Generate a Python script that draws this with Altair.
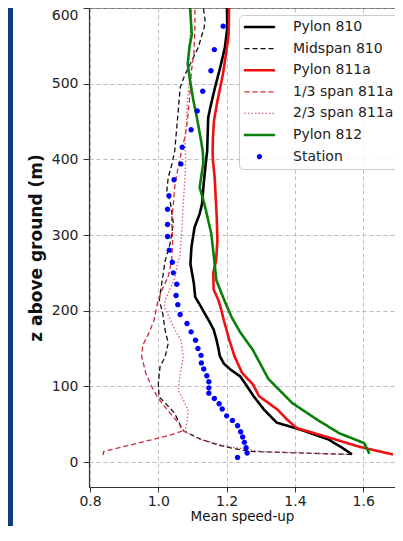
import altair as alt
import pandas as pd

SERIES = ["Pylon 810", "Midspan 810", "Pylon 811a", "1/3 span 811a",
          "2/3 span 811a", "Pylon 812", "Station"]
COLORS = ["#000000", "#111111", "#f01010", "#d3283a", "#dc6070", "#0a800a", "#0000ff"]
DASHES = [[1, 0], [5, 3], [1, 0], [5, 3], [1.5, 2], [1, 0], [1, 0]]
WIDTHS = {"Pylon 810": 2.6, "Midspan 810": 1.3, "Pylon 811a": 2.6, "1/3 span 811a": 1.3,
          "2/3 span 811a": 1.3, "Pylon 812": 2.6}
SOLID_SYM = "M-2.5,-0.11H2.5V0.11H-2.5Z"
LINE_SYM = "M-2.5,0L2.5,0"
CIRCLE_SYM = "M0.33,0A0.33,0.33,0,1,1,-0.33,0A0.33,0.33,0,1,1,0.33,0Z"
SHAPES = [SOLID_SYM, LINE_SYM, SOLID_SYM, LINE_SYM, LINE_SYM, SOLID_SYM, CIRCLE_SYM]

p810_z = [10, 20, 30, 43, 52, 69, 87, 104, 113, 122, 130, 140, 150, 162, 175, 187, 197, 206,
          218, 236, 262, 284, 310, 328, 341, 364, 391, 411, 440, 455, 468, 495, 521, 548, 574, 600]
p810_v = [1.567, 1.535, 1.497, 1.415, 1.347, 1.310, 1.279, 1.254, 1.240, 1.212, 1.192, 1.180,
          1.176, 1.170, 1.162, 1.148, 1.135, 1.124, 1.108, 1.104, 1.094, 1.097, 1.106, 1.121,
          1.128, 1.132, 1.138, 1.143, 1.145, 1.146, 1.152, 1.166, 1.181, 1.195, 1.202, 1.201]

mid810_z = [10, 12, 14, 18, 22, 30, 41, 47, 65, 78, 86, 104, 126, 139, 157, 174, 196, 214,
            236, 266, 288, 315, 341, 359, 376, 394, 411, 442, 468, 495, 512, 530, 548, 574, 583, 600]
mid810_v = [1.566, 1.415, 1.268, 1.220, 1.180, 1.125, 1.075, 1.066, 1.047, 1.020, 1.002, 1.000,
            1.005, 1.020, 1.029, 1.020, 1.013, 1.003, 1.010, 1.020, 1.034, 1.044, 1.036, 1.025,
            1.029, 1.040, 1.048, 1.054, 1.059, 1.064, 1.078, 1.098, 1.117, 1.134, 1.137, 1.132]

p811_z = [10, 20, 33, 45, 57, 69, 87, 102, 118, 126, 140, 161, 187, 205, 214, 228, 250, 266,
          293, 324, 350, 376, 398, 411, 430, 451, 477, 512, 539, 565, 600]
p811_v = [1.687, 1.590, 1.495, 1.405, 1.375, 1.350, 1.295, 1.278, 1.245, 1.237, 1.223, 1.208,
          1.192, 1.182, 1.176, 1.162, 1.161, 1.169, 1.173, 1.171, 1.168, 1.165, 1.160, 1.159,
          1.160, 1.163, 1.173, 1.189, 1.198, 1.206, 1.207]

s13_z = [9, 14, 25, 35, 41, 50, 67, 82, 100, 118, 140, 155, 170, 188, 210, 227, 245, 266, 293,
         319, 341, 368, 394, 411, 430, 451, 477, 504, 521, 539, 574, 600]
s13_v = [0.838, 0.840, 0.940, 1.030, 1.070, 1.062, 1.030, 1.003, 0.980, 0.963, 0.951, 0.955,
         0.972, 0.988, 0.997, 1.010, 1.029, 1.039, 1.042, 1.039, 1.044, 1.049, 1.060, 1.068,
         1.078, 1.085, 1.091, 1.095, 1.098, 1.104, 1.107, 1.107]

s23_z = [10, 14, 20, 30, 40, 55, 69, 82, 95, 113, 139, 148, 161, 172, 183, 195, 205, 214, 223,
         244, 262, 271, 302, 341, 376, 398, 425, 451, 477, 504, 530, 565, 600]
s23_v = [1.550, 1.300, 1.210, 1.120, 1.077, 1.085, 1.087, 1.073, 1.058, 1.063, 1.073, 1.070,
         1.066, 1.052, 1.040, 1.028, 1.018, 1.020, 1.029, 1.049, 1.056, 1.063, 1.068, 1.073,
         1.078, 1.080, 1.078, 1.083, 1.085, 1.091, 1.088, 1.093, 1.098]

p812_z = [11, 25, 38, 56, 78, 110, 148, 172, 192, 214, 240, 270, 302, 341, 363, 396, 411, 425,
          455, 477, 504, 526, 548, 565, 600]
p812_v = [1.618, 1.603, 1.530, 1.465, 1.392, 1.322, 1.277, 1.239, 1.214, 1.193, 1.170, 1.163,
          1.155, 1.135, 1.121, 1.132, 1.130, 1.125, 1.113, 1.103, 1.093, 1.086, 1.091, 1.098, 1.093]

station_z = [6, 12, 19, 26, 33, 40, 48, 55, 61, 70, 77, 84, 91, 98, 106, 114, 123, 131, 141,
             150, 161, 172, 183, 195, 208, 220, 235, 250, 264, 280, 298, 314, 334, 352, 373,
             394, 416, 439, 464, 490, 517, 545, 576]
station_v = [1.232, 1.260, 1.257, 1.252, 1.247, 1.241, 1.232, 1.217, 1.200, 1.187, 1.178, 1.164,
             1.148, 1.148, 1.148, 1.142, 1.133, 1.126, 1.125, 1.116, 1.109, 1.096, 1.084, 1.064,
             1.057, 1.052, 1.054, 1.044, 1.041, 1.032, 1.027, 1.027, 1.027, 1.031, 1.046, 1.066,
             1.070, 1.096, 1.114, 1.130, 1.154, 1.164, 1.190]

X_TICKS = [0.8, 1.0, 1.2, 1.4, 1.6]
Y_TICKS = [0, 100, 200, 300, 400, 500, 600]

line_sets = [("Pylon 810", p810_z, p810_v), ("Midspan 810", mid810_z, mid810_v),
             ("Pylon 811a", p811_z, p811_v), ("1/3 span 811a", s13_z, s13_v),
             ("2/3 span 811a", s23_z, s23_v), ("Pylon 812", p812_z, p812_v)]
rows = []
for name, zs, vs in line_sets:
    for i, (z, v) in enumerate(zip(zs, vs)):
        rows.append({"series": name, "z": z, "v": v, "idx": i, "sw": WIDTHS[name]})
lines_df = pd.DataFrame(rows)
st_df = pd.DataFrame({"series": "Station", "z": station_z, "v": station_v})

FONT = "DejaVu Sans"
PLOT_W, PLOT_H = 306, 479
xenc = alt.X("v:Q", scale=alt.Scale(domain=[0.797, 0.797 + PLOT_W / 341.5], nice=False, zero=False),
             axis=alt.Axis(values=X_TICKS, format=".1f", title="Mean speed-up",
                           titleFontSize=13.5, titleFontWeight="normal", titlePadding=1,
                           labelFontSize=14, labelPadding=2, tickSize=5))
yenc = alt.Y("z:Q", scale=alt.Scale(domain=[-33, 600], nice=False, zero=False),
             axis=alt.Axis(values=Y_TICKS, title="z above ground (m)", titleFontSize=17,
                           titleFontWeight="bold", titlePadding=6, labelFontSize=14,
                           labelPadding=5, labelFlush=True, tickSize=6))

legend = alt.Legend(
    title=None, orient="none", legendX=150, legendY=7, padding=5,
    fillColor="rgba(255,255,255,0.85)", strokeColor="#cccccc", cornerRadius=4,
    labelFontSize=14, labelColor="#222222", labelFont=FONT, labelOffset=26.5,
    symbolSize=144, symbolOffset=8.5, symbolStrokeWidth=1.3, rowPadding=7.6,
)

color = alt.Color("series:N", scale=alt.Scale(domain=SERIES, range=COLORS), legend=legend)
dash = alt.StrokeDash("series:N", scale=alt.Scale(domain=SERIES, range=DASHES), legend=legend)
shape = alt.Shape("series:N", scale=alt.Scale(domain=SERIES, range=SHAPES), legend=legend)

strip = alt.Chart(pd.DataFrame({"a": [0]})).mark_rect(color="#0b3f7f").encode(
    x=alt.value(-81), x2=alt.value(-76), y=alt.value(-10), y2=alt.value(530))

lines = alt.Chart(lines_df).mark_line().encode(
    x=xenc, y=yenc, color=color, strokeDash=dash,
    strokeWidth=alt.StrokeWidth("sw:Q", scale=None, legend=None),
    order=alt.Order("idx:Q"))

points = alt.Chart(st_df).mark_point(filled=True, size=269, opacity=1).encode(
    x=xenc, y=yenc, color=color, shape=shape)

top = alt.Chart(pd.DataFrame({"a": [0]})).mark_rule(color="#333333", strokeWidth=1.2).encode(
    y=alt.value(0), x=alt.value(0), x2=alt.value(PLOT_W))

chart = alt.layer(strip, lines, points, top).properties(
    width=PLOT_W, height=PLOT_H,
    autosize=alt.AutoSizeParams(type="none"),
    padding={"left": 81, "top": 0, "right": 0, "bottom": 39},
    background="white",
).configure(font=FONT).configure_view(stroke="transparent").configure_axis(
    grid=True, gridDash=[4, 3], gridColor="#b5b5b5", gridWidth=0.9,
    domainColor="#333333", domainWidth=1.2, tickColor="#333333",
    labelColor="#222222", titleColor="#111111", labelFont=FONT, titleFont=FONT,
)

chart.save("out.html", embed_options={"renderer": "svg", "actions": False})
